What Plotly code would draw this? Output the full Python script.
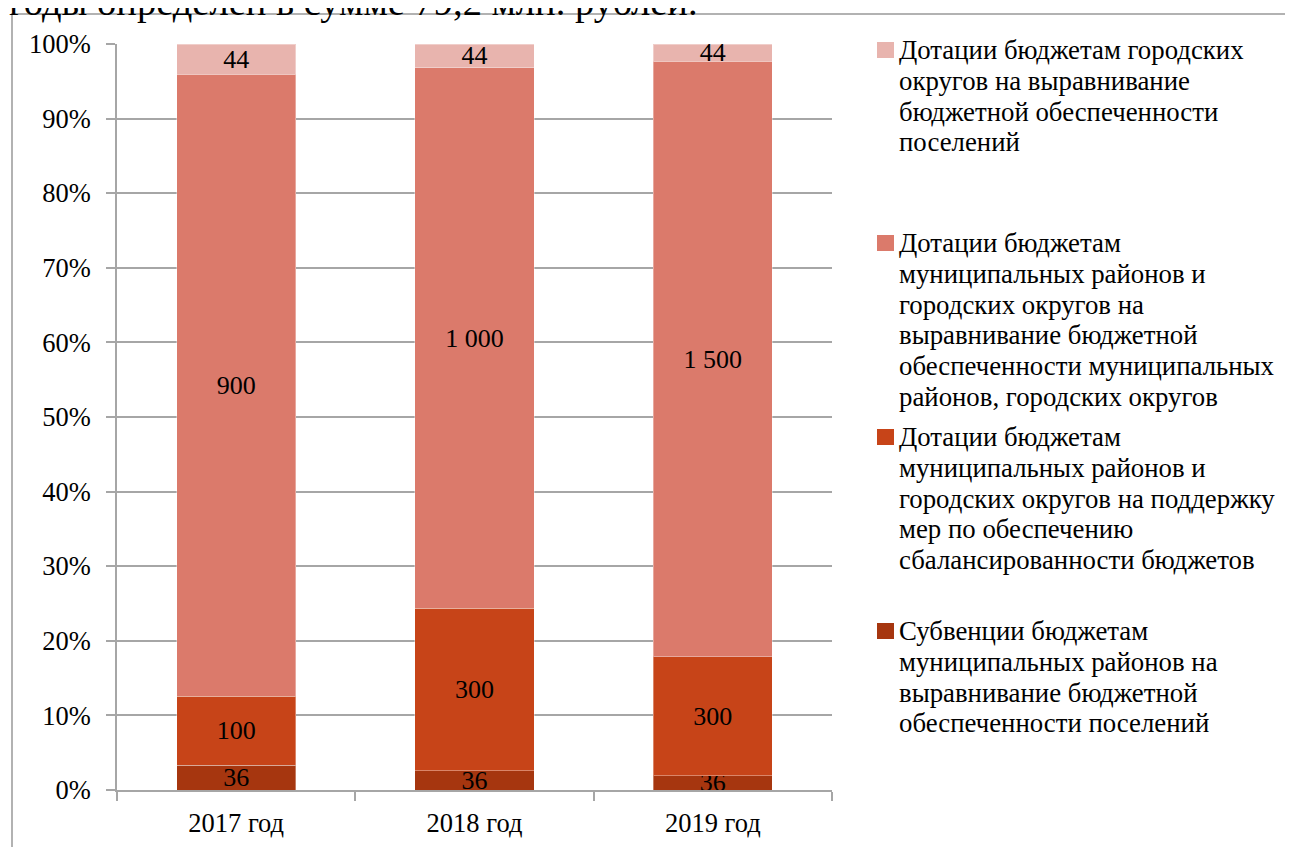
import plotly.graph_objects as go

years = ['2017 год', '2018 год', '2019 год']
subv_poselen = [36, 36, 36]
dot_podderzhka = [100, 300, 300]
dot_vyravn_mr = [900, 1000, 1500]
dot_go = [44, 44, 44]

names = [
    'Субвенции бюджетам<br>муниципальных районов на<br>выравнивание бюджетной<br>обеспеченности поселений',
    'Дотации бюджетам<br>муниципальных районов и<br>городских округов на поддержку<br>мер по обеспечению<br>сбалансированности бюджетов',
    'Дотации бюджетам<br>муниципальных районов и<br>городских округов на<br>выравнивание бюджетной<br>обеспеченности муниципальных<br>районов, городских округов',
    'Дотации бюджетам городских<br>округов на выравнивание<br>бюджетной обеспеченности<br>поселений',
]
series = [subv_poselen, dot_podderzhka, dot_vyravn_mr, dot_go]
colors = ['#A6360F', '#C74418', '#DB7A6B', '#E8B4AE']

FONT = 'Liberation Serif'
W, H = 1293, 847
OFF = 8  # page margin around the figure
L, R, T, B = 117 - OFF, 832 - OFF, 44 - OFF, 790 - OFF


def px(x):
    return (x - OFF - L) / (R - L)


def py(y):
    return (B - (y - OFF)) / (B - T)


def fmt(v):
    return f'{v:,}'.replace(',', ' ')


fig = go.Figure()
for name, vals, col in zip(names, series, colors):
    fig.add_trace(go.Bar(x=years, y=vals, name=name.replace('<br>', ' '),
                         marker=dict(color=col, line=dict(color='rgba(255,255,255,0.35)', width=1)),
                         text=[fmt(v) for v in vals], textposition='inside', insidetextanchor='middle',
                         constraintext='none', textangle=0,
                         textfont=dict(family=FONT, size=26, color='black')))

fig.update_layout(barmode='stack', barnorm='percent', bargap=0.5, showlegend=False,
                  width=W, height=H, paper_bgcolor='white', plot_bgcolor='white',
                  margin=dict(l=L, r=W - R, t=T, b=H - B),
                  font=dict(family=FONT, size=26.5, color='black'))
fig.update_yaxes(range=[0, 100], dtick=10, ticksuffix='%', showgrid=True, gridcolor='#A6A6A6', gridwidth=1.5,
                 showline=True, linecolor='#A6A6A6', linewidth=1.5, ticks='outside', ticklen=9,
                 tickcolor='#A6A6A6', tickwidth=1.5, zeroline=False, ticklabelstandoff=10)
fig.update_xaxes(showline=True, linecolor='#A6A6A6', linewidth=1.5, ticks='outside', ticklen=9,
                 tickcolor='#A6A6A6', tickwidth=1.5, tickson='boundaries', ticklabelstandoff=8)

# legend drawn by hand to keep the original spacing (one annotation per line)
leg_y = [631, 437, 243, 50]
pitch = 30.8
for name, col, yc in zip(names, colors, leg_y):
    fig.add_shape(type='rect', xref='paper', yref='paper', x0=px(877), x1=px(894), y0=py(yc + 8), y1=py(yc - 8),
                  fillcolor=col, line=dict(width=0))
    for i, line in enumerate(name.split('<br>')):
        fig.add_annotation(xref='paper', yref='paper', x=px(897), y=py(yc + i * pitch), xanchor='left',
                           yanchor='middle', text=line, showarrow=False, align='left',
                           font=dict(family=FONT, size=26.8, color='black'))

# outer frame of the embedded chart
fig.add_shape(type='rect', xref='paper', yref='paper', x0=px(12), x1=px(1400), y0=py(900), y1=py(14),
              line=dict(color='#999999', width=1.5), fillcolor='rgba(0,0,0,0)')

# text of the document above the chart, cut by the page edge
fig.add_annotation(xref='paper', yref='paper', x=px(7), y=py(25), xanchor='left', yanchor='bottom',
                   text='годы определен в сумме 79,2 млн. рублей.', showarrow=False,
                   font=dict(family=FONT, size=38.5, color='black'))

fig.write_html('out.html')
